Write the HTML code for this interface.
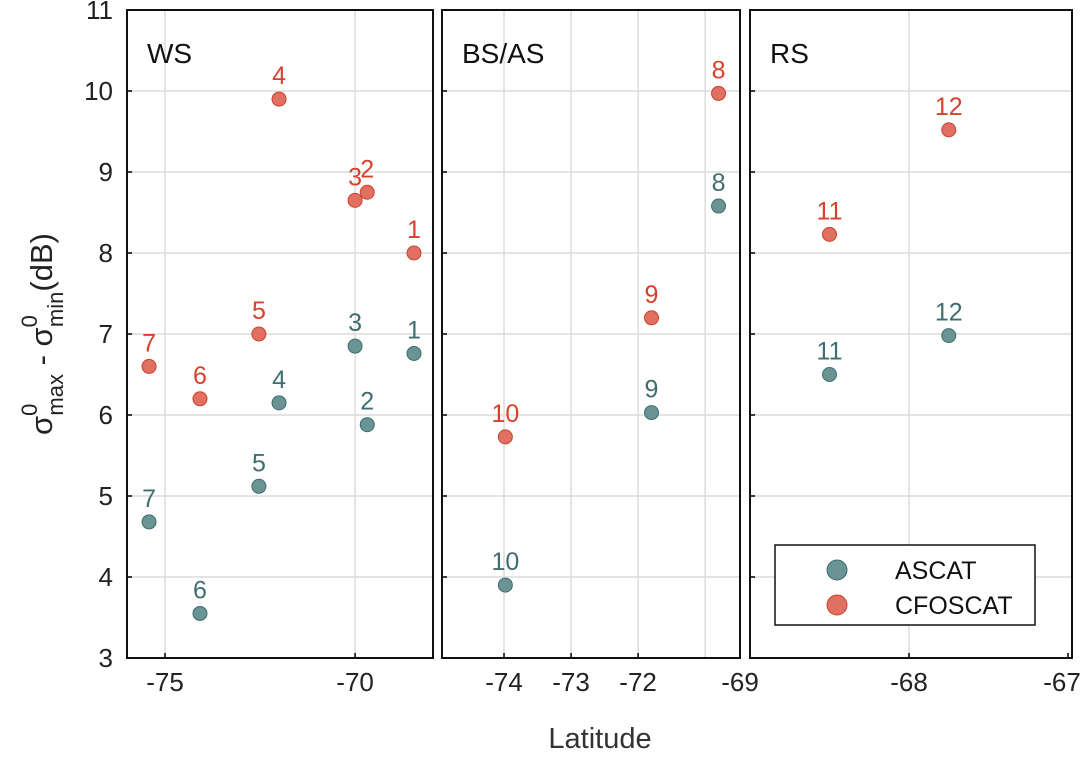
<!DOCTYPE html>
<html><head><meta charset="utf-8"><style>
body{margin:0;background:#fff;}
svg text{font-family:"Liberation Sans",Arial,sans-serif;}
</style></head><body>
<svg id="c" width="1083" height="758" xmlns="http://www.w3.org/2000/svg"></svg>
<script>
const panelNames=["WS","BS/AS","RS"];
const ids1=["1","2","3","4","5","6","7"];
const lat1=[-68.45,-69.68,-70.0,-72.0,-72.53,-74.08,-75.42];
const asc1=[6.76,5.88,6.85,6.15,5.12,3.55,4.68];
const cfo1=[8.0,8.75,8.65,9.9,7.0,6.2,6.6];
const ids2=["8","9","10"];
const lat2=[-70.8,-71.8,-73.98];
const asc2=[8.58,6.03,3.9];
const cfo2=[9.97,7.2,5.73];
const ids3=["11","12"];
const lat3=[-68.5,-67.75];
const asc3=[6.5,6.98];
const cfo3=[8.23,9.52];
const yTicks=[3,4,5,6,7,8,9,10,11];
const xTicks1=[-75,-70];
const xTicks2=[-74,-73,-72];
const xTicks3=[-69,-68,-67];

const NS="http://www.w3.org/2000/svg";
const svg=document.getElementById('c');
function mk(t,a,txt){const e=document.createElementNS(NS,t);for(const k in a)e.setAttribute(k,a[k]);if(txt!==undefined)e.textContent=txt;svg.appendChild(e);return e;}
const yTop=10,yBot=658,yMin=3,yMax=11;
const y=v=>yBot-(v-yMin)/(yMax-yMin)*(yBot-yTop);
const panels=[
 {x0:127,x1:433,d0:-76,d1:-67.95,ids:ids1,lat:lat1,asc:asc1,cfo:cfo1,ticks:xTicks1,grid:[-75,-70]},
 {x0:442,x1:740,d0:-74.925,d1:-70.48,ids:ids2,lat:lat2,asc:asc2,cfo:cfo2,ticks:xTicks2,grid:[-74,-73,-72,-71]},
 {x0:750,x1:1072,d0:-69,d1:-66.975,ids:ids3,lat:lat3,asc:asc3,cfo:cfo3,ticks:xTicks3,grid:[-68]}
];
panels.forEach((p,pi)=>{
 const x=v=>p.x0+(v-p.d0)/(p.d1-p.d0)*(p.x1-p.x0);
 yTicks.forEach(t=>{ if(t>yMin&&t<yMax){const g=mk('line',{x1:p.x0,x2:p.x1,y1:y(t),y2:y(t),stroke:'#dcdcdc','stroke-width':1.5});
  }
  const tk=mk('line',{x1:p.x0,x2:p.x0+5,y1:y(t),y2:y(t),stroke:'#000','stroke-width':1.5});
  });
 p.grid.forEach(t=>{const g=mk('line',{x1:x(t),x2:x(t),y1:yTop,y2:yBot,stroke:'#dcdcdc','stroke-width':1.5});
  });
 p.ticks.forEach(t=>{let xx=x(t);
  const tk=mk('line',{x1:xx,x2:xx,y1:yBot,y2:yBot-5,stroke:'#000','stroke-width':1.5});
  
  if(t===p.d0) xx-=10;
  if(xx>1062) xx=1062;
  const l=mk('text',{x:xx,y:691,'text-anchor':'middle','font-size':26,fill:'#222'},String(t));
  });
 const fr=mk('rect',{x:p.x0,y:yTop,width:p.x1-p.x0,height:yBot-yTop,fill:'none',stroke:'#111','stroke-width':2});
 
 const tt=mk('text',{x:p.x0+20,y:63,'font-size':28,fill:'#111'},panelNames[pi]);
 
 p.lat.forEach((la,i)=>{
  [[p.asc[i],'#6a9393','#3d6d70','#3f6e70','ascat'],[p.cfo[i],'#e07060','#cc4030','#d9402c','cfoscat']].forEach(s=>{
   const cx=x(la),cy=y(s[0]);
   const c=mk('circle',{cx:cx,cy:cy,r:7,fill:s[1],stroke:s[2],'stroke-width':1});
   
   const l=mk('text',{x:cx,y:cy-15,'text-anchor':'middle','font-size':25,fill:s[3]},p.ids[i]);
   
  });
 });
});
yTicks.forEach(t=>{const l=mk('text',{x:113,y:y(t)+9,'text-anchor':'end','font-size':26,fill:'#222'},String(t));
 });
const xt=mk('text',{x:600,y:748,'text-anchor':'middle','font-size':29,fill:'#333'},'Latitude');

const yt=mk('text',{transform:'translate(52,334) rotate(-90)','text-anchor':'middle','font-size':31,fill:'#222'});

yt.innerHTML='σ<tspan dy="-15" font-size="22">0</tspan><tspan dx="-12" dy="26" font-size="22">max</tspan><tspan dy="-11"> - σ</tspan><tspan dy="-15" font-size="22">0</tspan><tspan dx="-12" dy="26" font-size="22">min</tspan><tspan dy="-11">(dB)</tspan>';
const lg=mk('rect',{x:775,y:545,width:260,height:80,fill:'#fff',stroke:'#111','stroke-width':1.5});

const legItems=[['ASCAT','#6a9393','#3d6d70',570],['CFOSCAT','#e07060','#cc4030',605]];
legItems.forEach(it=>{
 const c=mk('circle',{cx:837,cy:it[3],r:10,fill:it[1],stroke:it[2],'stroke-width':1});
 
 const t=mk('text',{x:895,y:it[3]+9,'font-size':25,fill:'#111'},it[0]);
 
});
</script>
</body></html>
